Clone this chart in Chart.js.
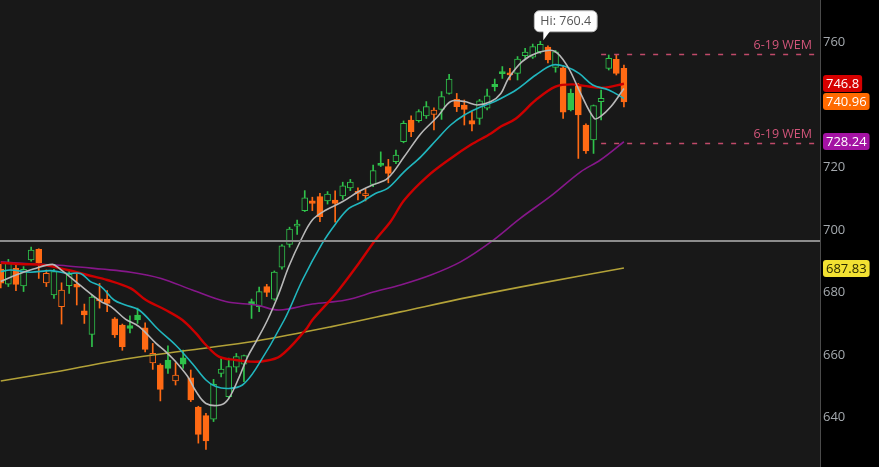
<!DOCTYPE html>
<html>
<head>
<meta charset="utf-8">
<title>Candles</title>
<script src="https://cdn.jsdelivr.net/npm/chart.js@4.4.1/dist/chart.umd.min.js"></script>
<style>
	html, body { margin: 0; padding: 0; background: #000; }
	#wrap { width: 879px; height: 467px; }
</style>
</head>
<body>
<div id="wrap"><canvas id="chart" width="879" height="467"></canvas></div>
<script>
// daily candles, oldest first
const opens = [
	687.5, 682.7, 687.7, 682.1, 690.4, 693.8, 683.1, 679.2, 675.5, 682.2,
	682.6, 674.1, 666.6, 678.0, 677.9, 671.6, 669.6, 669.4, 672.8, 668.7,
	657.5, 656.8, 658.4, 651.7, 659.1, 652.7, 643.3, 640.6, 639.5, 654.1,
	646.7, 656.1, 657.1, 677.1, 675.5, 681.9, 677.9, 688.1, 695.4, 701.2,
	706.2, 709.3, 710.7, 709.3, 709.6, 710.9, 713.5, 712.3, 711.0, 714.6,
	721.3, 720.3, 721.9, 728.3, 735.2, 735.0, 736.5, 737.0, 738.6, 743.7,
	741.8, 740.0, 735.0, 735.7, 739.0, 746.6, 750.7, 750.3, 750.1, 755.8,
	755.3, 757.1, 758.5, 752.0, 751.9, 743.7, 746.4, 733.6, 728.8, 741.1,
	751.7, 754.6, 751.7
];
const highs = [
	689.0, 690.6, 688.8, 688.3, 694.5, 694.0, 687.2, 687.4, 683.1, 687.2,
	686.1, 676.3, 679.2, 682.9, 680.6, 672.0, 669.9, 672.5, 675.0, 670.3,
	663.7, 657.2, 662.9, 657.5, 661.6, 655.2, 643.6, 641.3, 652.2, 659.0,
	659.0, 660.5, 660.0, 677.9, 681.7, 682.6, 686.9, 695.3, 700.9, 703.2,
	712.6, 710.5, 711.7, 712.3, 712.5, 715.3, 716.2, 713.5, 713.1, 720.8,
	725.0, 722.6, 725.6, 734.9, 736.5, 738.5, 741.1, 739.1, 744.3, 749.8,
	743.7, 741.6, 737.9, 741.8, 745.1, 748.3, 752.3, 751.7, 755.5, 758.1,
	759.5, 760.4, 758.9, 757.5, 752.6, 745.1, 746.9, 734.0, 740.0, 744.8,
	756.0, 756.0, 752.8
];
const lows = [
	681.5, 681.9, 680.6, 680.3, 690.0, 684.5, 681.9, 678.1, 669.9, 679.7,
	676.0, 670.1, 662.7, 675.0, 673.9, 665.6, 661.5, 667.1, 670.1, 661.0,
	655.4, 645.3, 654.1, 650.4, 655.7, 645.1, 631.8, 629.8, 638.7, 653.0,
	646.3, 654.5, 651.5, 671.7, 673.9, 678.7, 677.5, 687.5, 694.5, 698.6,
	705.9, 706.2, 702.7, 708.3, 702.5, 709.8, 712.6, 709.6, 709.3, 713.9,
	720.3, 715.1, 721.2, 727.9, 729.9, 734.5, 735.7, 732.0, 735.4, 743.5,
	737.9, 733.6, 731.7, 733.8, 738.4, 744.5, 748.5, 748.0, 748.0, 754.9,
	754.9, 756.5, 753.5, 750.5, 735.7, 738.1, 722.9, 724.5, 724.5, 735.2,
	751.2, 749.6, 739.4
];
const closes = [
	683.0, 689.5, 682.6, 687.4, 693.6, 689.5, 686.1, 686.7, 680.8, 685.8,
	681.7, 672.8, 678.5, 677.3, 676.5, 666.4, 662.7, 668.5, 671.2, 661.8,
	660.5, 649.0, 655.7, 653.6, 657.1, 645.6, 634.6, 632.5, 650.6, 655.5,
	656.3, 659.5, 659.8, 676.0, 680.3, 680.0, 686.5, 694.9, 700.3, 701.9,
	710.3, 708.5, 704.3, 711.5, 708.5, 714.1, 715.3, 711.7, 711.5, 719.0,
	720.7, 718.1, 724.0, 734.1, 731.5, 737.9, 739.5, 738.4, 742.7, 748.3,
	739.5, 738.6, 733.9, 741.3, 742.9, 745.9, 750.0, 749.6, 754.7, 756.9,
	758.7, 759.4, 754.4, 757.0, 737.7, 738.4, 736.8, 725.3, 739.8, 742.1,
	754.9, 750.1, 740.96
];

// moving averages at candle positions
const fastMaX = [0, 2, 4.3, 6.8, 7.7, 10.1, 13.2, 14.5, 16.4, 18.2, 20.4, 21.7, 23, 24.6, 25.7, 27, 28.9, 30, 31.4, 32.5, 33.6, 35.1, 36.6, 37.9, 39.5, 41, 42.8, 45, 47.1, 48.9, 50.9, 53.1, 55.3, 57.5, 59.2, 61, 62.7, 64.5, 65.8, 66.8, 68.6, 70.4, 72.8, 74.6, 76.3, 78.1, 78.9, 80.3, 82];
const fastMaY = [683.5, 685.6, 687.5, 689.0, 687.7, 683.0, 677.1, 675.5, 671.5, 669.1, 663.8, 661.1, 657.9, 653.1, 648.3, 644.5, 644.0, 646.1, 653.1, 659.5, 664.3, 671.2, 679.7, 688.3, 696.8, 703.2, 706.4, 709.1, 712.3, 714.4, 716.5, 723.5, 730.9, 736.3, 741.1, 741.1, 740.0, 741.1, 743.7, 748.5, 753.9, 756.5, 757.3, 752.3, 743.7, 735.7, 736.3, 739.5, 745.3];
const midMaX = [0, 1.3, 3.9, 6.6, 8.8, 10.5, 11.8, 13.2, 14.9, 16.4, 18.2, 20.8, 23, 25.2, 27, 28.3, 30, 31.8, 33.6, 37.3, 39.7, 42.3, 44.1, 45.8, 47.6, 49.3, 50.9, 53.1, 55.3, 57.5, 59.2, 61, 62.7, 64.5, 65.8, 67.8, 70.4, 72.6, 74.3, 76.1, 77.9, 80, 82];
const midMaY = [686.7, 687.2, 686.5, 687.0, 686.1, 686.1, 683.5, 681.9, 677.6, 676.0, 674.4, 668.0, 663.2, 657.3, 652.0, 649.9, 649.3, 650.4, 655.7, 671.2, 684.0, 695.7, 702.1, 706.9, 709.1, 711.7, 713.3, 718.7, 723.5, 729.3, 733.6, 736.8, 738.9, 740.6, 742.1, 744.8, 749.6, 752.8, 752.3, 750.1, 746.4, 744.8, 742.1];
const slowMaX = [0, 2.6, 5.7, 8.8, 11.4, 14, 17.1, 19.1, 21.7, 23.9, 25.7, 27, 28.7, 30.9, 32.7, 34.5, 36.8, 40.1, 41, 44.1, 47.1, 49.3, 51.3, 53.1, 56.1, 59.2, 61.8, 64.5, 65.8, 67.8, 70.4, 73, 75.2, 77.4, 79.2, 82];
const slowMaY = [689.5, 689.1, 688.8, 687.2, 685.6, 684.0, 681.3, 677.6, 674.4, 671.2, 666.9, 663.2, 659.5, 658.4, 657.9, 658.0, 659.7, 668.0, 671.2, 679.7, 689.3, 696.8, 702.7, 709.6, 717.1, 722.9, 727.2, 730.9, 733.1, 735.7, 741.6, 745.9, 746.6, 745.9, 745.5, 746.8];
const trendMaX = [0, 4.3, 8.8, 13.2, 17.1, 21.1, 25.2, 29.6, 33.6, 36.6, 41, 45.4, 49.3, 52.6, 56.6, 60.5, 64.5, 68.4, 72.4, 76.3, 78.9, 82];
const trendMaY = [689.8, 689.1, 688.5, 687.5, 686.5, 684.5, 680.8, 677.1, 676.0, 674.4, 676.3, 677.6, 680.3, 682.4, 685.6, 689.8, 696.2, 703.8, 710.9, 718.6, 722.4, 728.24];
const longMaX = [0, 7.9, 16.4, 25, 33.6, 43.4, 52.6, 61.8, 71.1, 82];
const longMaY = [651.7, 654.9, 658.7, 661.6, 664.5, 669.0, 673.8, 678.6, 683.0, 687.83];

const yTicks = [640, 660, 680, 700, 720, 740, 760];
const yRange = [624.16, 773.6];
const xRange = [-0.1, 107.8];

const levelLine = 696.6;
const wemLevels = [756.2, 727.9];
const wemText = ['6-19 WEM', '6-19 WEM'];
const wemFrom = 79;

const tagValues = [746.8, 740.96, 728.24, 687.83];
const tagFill = ['#d60000', '#ff6a00', '#a312a3', '#f2e132'];
const tagInk = ['#ffffff', '#ffffff', '#ffffff', '#2a2a00'];

const plotBg = '#181818';
const upColor = '#2fc24b';
const downColor = '#ff6a14';

function candleColor(i) {
	if (i === 0) return downColor;
	return closes[i] >= closes[i - 1] ? upColor : downColor;
}

const wickData = highs.map((h, i) => ({ x: i, y: [lows[i], h] }));
const bodyData = opens.map((o, i) => ({ x: i, y: [o, closes[i]] }));

function maLine(xs, ys, color, width) {
	return {
		type: 'line',
		data: xs.map((x, k) => ({ x: x, y: ys[k] })),
		borderColor: color,
		borderWidth: width,
		pointRadius: 0,
		tension: 0.35,
		fill: false,
		order: 0
	};
}

const overlay = {
	id: 'overlay',
	beforeDraw(chart) {
		const { ctx, chartArea: a } = chart;
		ctx.save();
		ctx.fillStyle = '#000';
		ctx.fillRect(0, 0, chart.width, chart.height);
		ctx.fillStyle = plotBg;
		ctx.fillRect(a.left, a.top, a.right - a.left, a.bottom - a.top);
		ctx.restore();
	},
	afterDatasetsDraw(chart) {
		const { ctx, chartArea: a } = chart;
		const xs = chart.scales.x, ys = chart.scales.y;
		ctx.save();
		// grey level line
		const ly = Math.round(ys.getPixelForValue(levelLine));
		ctx.strokeStyle = '#8c8c8c';
		ctx.lineWidth = 2;
		ctx.beginPath();
		ctx.moveTo(a.left, ly);
		ctx.lineTo(a.right, ly);
		ctx.stroke();

		// weekly expected move
		ctx.setLineDash([5, 8]);
		ctx.lineWidth = 1.4;
		ctx.strokeStyle = '#c04a6a';
		ctx.font = '12.5px "Open Sans"';
		ctx.textAlign = 'right';
		ctx.textBaseline = 'middle';
		wemLevels.forEach((v, k) => {
			const py = Math.round(ys.getPixelForValue(v)) + 0.5;
			ctx.beginPath();
			ctx.moveTo(xs.getPixelForValue(wemFrom), py);
			ctx.lineTo(a.right, py);
			ctx.stroke();
			ctx.fillStyle = '#d2557a';
			ctx.fillText(wemText[k], a.right - 8, py - 9);
		});
		ctx.restore();
	},
	afterDraw(chart) {
		const { ctx } = chart;
		const xs = chart.scales.x, ys = chart.scales.y;
		ctx.save();

		// price tags on the axis
		ctx.font = '13px "Open Sans"';
		ctx.textBaseline = 'middle';
		ctx.textAlign = 'left';
		tagValues.forEach((v, k) => {
			const text = String(v);
			const w = ctx.measureText(text).width + 6;
			const h = 17;
			const cy = ys.getPixelForValue(v);
			const bx = 823, by = Math.round(cy - h / 2);
			ctx.fillStyle = tagFill[k];
			ctx.beginPath();
			ctx.roundRect(bx, by, w, h, 3);
			ctx.fill();
			ctx.fillStyle = tagInk[k];
			ctx.fillText(text, bx + 3, by + h / 2 + 0.5);
		});

		// high callout
		let hiIdx = 0;
		highs.forEach((h, i) => { if (h > highs[hiIdx]) hiIdx = i; });
		const label = 'Hi: ' + highs[hiIdx];
		ctx.font = '12.5px "Open Sans"';
		const tw = ctx.measureText(label).width;
		const tx = xs.getPixelForValue(hiIdx) + 3;
		const ty = ys.getPixelForValue(highs[hiIdx]) - 1;
		const bw = tw + 12, bh = 21, bx = tx - 9, by = ty - 29.5;
		ctx.fillStyle = '#ffffff';
		ctx.strokeStyle = '#bdbdbd';
		ctx.lineWidth = 1;
		ctx.beginPath();
		ctx.roundRect(bx, by, bw, bh, 5);
		ctx.fill();
		ctx.stroke();
		ctx.beginPath();
		ctx.moveTo(tx, by + bh - 1);
		ctx.lineTo(tx + 7, by + bh - 1);
		ctx.lineTo(tx, ty);
		ctx.closePath();
		ctx.fill();
		ctx.fillStyle = '#555555';
		ctx.textAlign = 'center';
		ctx.fillText(label, bx + bw / 2, by + bh / 2 + 0.5);

		ctx.restore();
	}
};

new Chart(document.getElementById('chart'), {
	type: 'bar',
	data: {
		datasets: [
			maLine(fastMaX, fastMaY, '#b8b8b8', 1.6),
			maLine(midMaX, midMaY, '#21b6be', 1.6),
			maLine(slowMaX, slowMaY, '#cc0000', 2.4),
			maLine(trendMaX, trendMaY, '#86178a', 1.6),
			maLine(longMaX, longMaY, '#b3a238', 1.6),
			{
				type: 'bar',
				data: bodyData,
				barThickness: 6,
				grouped: false,
				minBarLength: 2,
				borderWidth: 1,
				borderSkipped: false,
				borderColor: (c) => candleColor(c.dataIndex),
				backgroundColor: (c) => closes[c.dataIndex] > opens[c.dataIndex] ? plotBg : candleColor(c.dataIndex),
				order: 2
			},
			{
				type: 'bar',
				data: wickData,
				barThickness: 1,
				grouped: false,
				borderWidth: 0,
				backgroundColor: (c) => candleColor(c.dataIndex),
				order: 3
			}
		]
	},
	options: {
		responsive: false,
		animation: false,
		devicePixelRatio: 1,
		layout: { padding: 0 },
		plugins: {
			legend: { display: false },
			tooltip: { enabled: false }
		},
		scales: {
			x: {
				type: 'linear',
				min: xRange[0],
				max: xRange[1],
				offset: false,
				display: false
			},
			y: {
				position: 'right',
				min: yRange[0],
				max: yRange[1],
				afterFit(scale) {
					scale.width = 59;
					scale.paddingTop = 0;
					scale.paddingBottom = 0;
				},
				afterBuildTicks(scale) { scale.ticks = yTicks.map(v => ({ value: v })); },
				grid: { display: false, drawTicks: false },
				border: { display: true, color: '#4a4a4a', width: 1 },
				ticks: {
					color: '#a4a9ae',
					padding: 3,
					crossAlign: 'near',
					font: { family: 'Open Sans', size: 13 }
				}
			}
		}
	},
	plugins: [overlay]
});
</script>
</body>
</html>
